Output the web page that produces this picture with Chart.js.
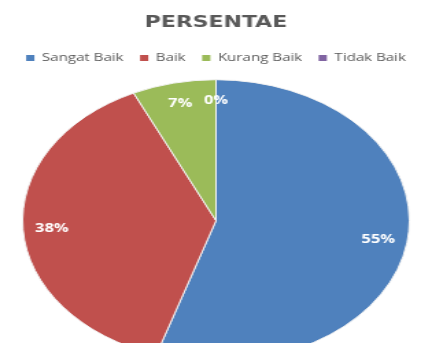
<!DOCTYPE html>
<html>
<head>
<meta charset="utf-8">
<script src="https://cdn.jsdelivr.net/npm/chart.js@4"></script>
<style>
    html, body { margin: 0; padding: 0; background: #fff; overflow: hidden; width: 432px; height: 343px; }
    /* the original picture is a stretched Excel chart, so draw narrow and stretch it */
    #wrap { width: 315px; height: 368px; transform: scaleX(1.3714); transform-origin: 0 0; }
</style>
</head>
<body>
<div id="wrap"><canvas id="pieChart" width="315" height="368"></canvas></div>
<script>
const categories = ['Sangat Baik', 'Baik', 'Kurang Baik', 'Tidak Baik'];
const percentages = [55, 38, 7, 0];
const sliceColors = ['#4f81bd', '#c0504d', '#9bbb59', '#8064a2'];

// Percent labels inside the slices
const sliceLabels = {
    id: 'sliceLabels',
    afterDatasetsDraw(chart) {
        const ctx = chart.ctx;
        const meta = chart.getDatasetMeta(0);
        ctx.save();
        ctx.font = 'bold 12px "Open Sans"';
        ctx.fillStyle = '#ffffff';
        ctx.textAlign = 'center';
        ctx.textBaseline = 'middle';
        meta.data.forEach(function(arc, i) {
            const p = arc.getProps(['x', 'y', 'startAngle', 'endAngle', 'outerRadius'], true);
            const mid = (p.startAngle + p.endAngle) / 2;
            const r = p.outerRadius * 0.85;
            ctx.fillText(percentages[i] + '%', p.x + Math.cos(mid) * r, p.y + Math.sin(mid) * r);
        });
        ctx.restore();
    }
};

const ctx = document.getElementById('pieChart').getContext('2d');
const pieChart = new Chart(ctx, {
    type: 'pie',
    data: {
        labels: categories,
        datasets: [{
            data: percentages,
            backgroundColor: sliceColors,
            borderColor: '#f2f2f2',
            borderWidth: 1,
            radius: 141
        }]
    },
    options: {
        responsive: false,
        animation: false,
        devicePixelRatio: 1,
        layout: { padding: 0 },
        plugins: {
            title: {
                display: true,
                text: 'PERSENTAE',
                color: '#595959',
                font: { family: '"DejaVu Sans"', size: 16, weight: 'bold' },
                padding: { top: 13, bottom: 8.2 }
            },
            legend: {
                position: 'top',
                labels: {
                    color: '#595959',
                    font: { family: '"Open Sans"', size: 11 },
                    boxWidth: 6,
                    boxHeight: 6,
                    padding: 12,
                    generateLabels: function(chart) {
                        return categories.map(function(name, i) {
                            return {
                                text: name,
                                fillStyle: sliceColors[i],
                                strokeStyle: sliceColors[i],
                                lineWidth: 0,
                                fontColor: '#595959',
                                index: i
                            };
                        });
                    }
                }
            },
            tooltip: { enabled: false }
        }
    },
    plugins: [sliceLabels]
});
</script>
</body>
</html>
